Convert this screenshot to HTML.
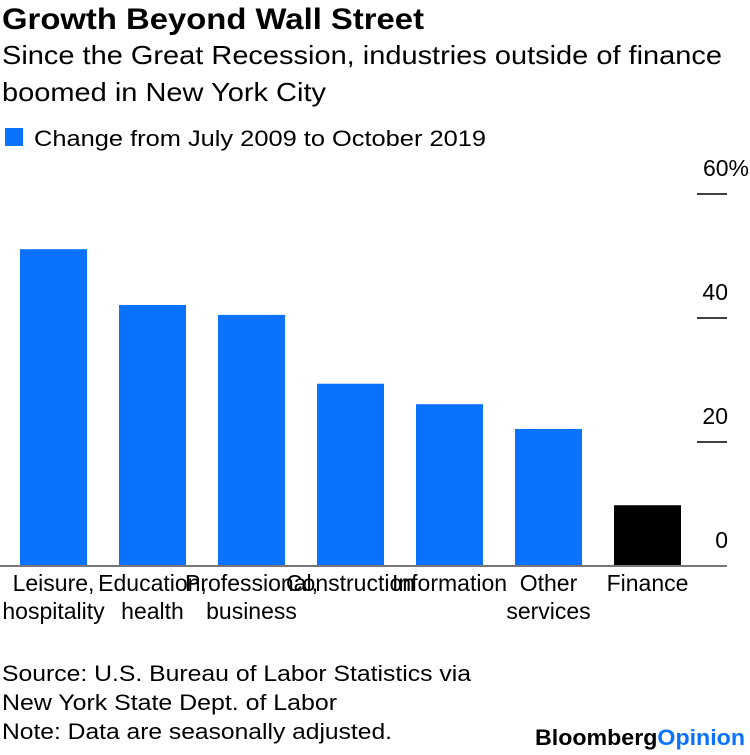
<!DOCTYPE html>
<html><head><meta charset="utf-8"><style>
body{margin:0;width:750px;height:750px;background:#fff;font-family:"Liberation Sans",sans-serif;overflow:hidden}
svg text{font-family:"Liberation Sans",sans-serif}
</style></head><body>
<svg width="750" height="750">
<text x="2" y="29" font-size="30" font-weight="bold" fill="#000" textLength="422" lengthAdjust="spacingAndGlyphs">Growth Beyond Wall Street</text>
<text x="2" y="64" font-size="26" fill="#000" textLength="720" lengthAdjust="spacingAndGlyphs">Since the Great Recession, industries outside of finance</text>
<text x="2" y="101" font-size="26" fill="#000" textLength="324" lengthAdjust="spacingAndGlyphs">boomed in New York City</text>
<rect x="5" y="128" width="18" height="18" fill="#0a72ff"/>
<text x="34" y="146" font-size="22" fill="#000" textLength="452" lengthAdjust="spacingAndGlyphs">Change from July 2009 to October 2019</text>
<g id="ticks"></g>
<g id="bars"></g>
<line x1="0" y1="566" x2="727" y2="566" stroke="#777" stroke-width="2"/>
<g id="labels"></g>
<text x="2" y="681" font-size="22" textLength="469" lengthAdjust="spacingAndGlyphs">Source: U.S. Bureau of Labor Statistics via</text>
<text x="2" y="710" font-size="22" textLength="335" lengthAdjust="spacingAndGlyphs">New York State Dept. of Labor</text>
<text x="2" y="739" font-size="22" textLength="390" lengthAdjust="spacingAndGlyphs">Note: Data are seasonally adjusted.</text>
<text x="535" y="745" font-size="22" font-weight="bold" textLength="210" lengthAdjust="spacingAndGlyphs">Bloomberg<tspan fill="#0a72ff">Opinion</tspan></text>
</svg>
<script>
const categories=[["Leisure,","hospitality"],["Education,","health"],["Professional,","business"],["Construction"],["Information"],["Other","services"],["Finance"]];
const values=[51.1,42.1,40.5,29.4,26.1,22.1,9.8];
const colors=["#0a72ff","#0a72ff","#0a72ff","#0a72ff","#0a72ff","#0a72ff","#000"];
const tickValues=[0,20,40,60];
const tickLabels=["0","20","40","60%"];
const NS="http://www.w3.org/2000/svg";
const y=v=>566-v*6.2;
const x=i=>20+i*99;
const bw=67;
function mk(t,a){const e=document.createElementNS(NS,t);for(const k in a)e.setAttribute(k,a[k]);return e;}
const tg=document.getElementById('ticks');
tickValues.forEach((v,i)=>{
 if(v>0){const l=mk('line',{x1:697,x2:727,y1:y(v),y2:y(v),stroke:'#000','stroke-width':1.5});
 
 tg.appendChild(l);}
 const t=mk('text',{x:i==3?749:728,y:y(v)-18,'font-size':23,'text-anchor':'end'});
 t.textContent=tickLabels[i];
 
 tg.appendChild(t);
});
const bg=document.getElementById('bars'),lg=document.getElementById('labels');
values.forEach((v,i)=>{
 const r=mk('rect',{x:x(i),y:y(v),width:bw,height:566-y(v),fill:colors[i]});
 
 bg.appendChild(r);
 categories[i].forEach((s,j)=>{
  const t=mk('text',{x:x(i)+bw/2,y:591+j*28,'font-size':23,'text-anchor':'middle'});
  t.textContent=s;
  
  lg.appendChild(t);
 });
});
</script>
</body></html>
